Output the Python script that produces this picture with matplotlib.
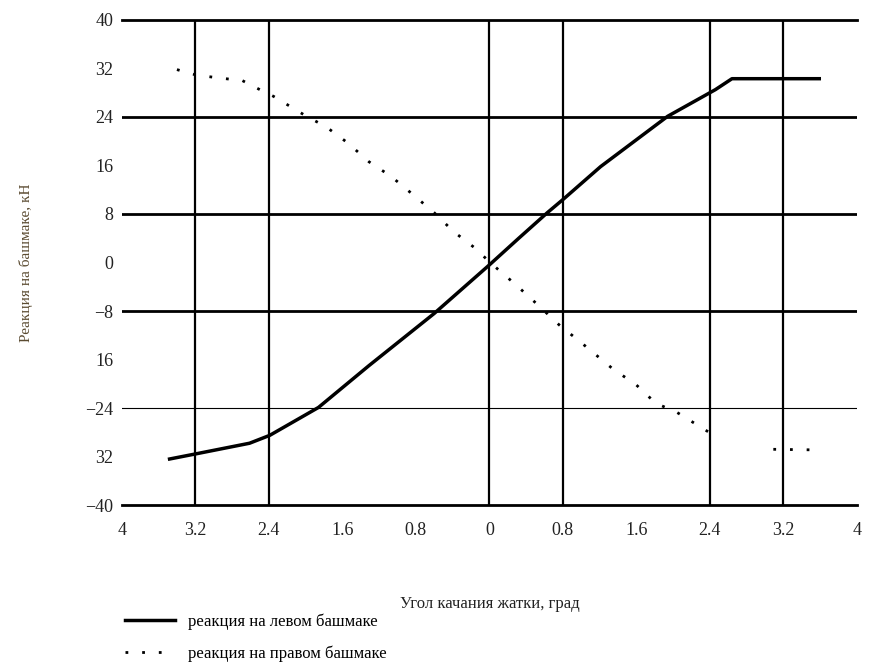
import numpy as np
import matplotlib
matplotlib.use('Agg')
import matplotlib.pyplot as plt

plt.rcParams['font.family'] = ['Liberation Serif', 'DejaVu Serif']

# реакция на левом башмаке (solid)
left_x = [-3.48, -3.21, -2.61, -2.39, -1.86, -1.31, -0.60, 0.0, 0.32, 0.63, 0.81, 1.21, 1.94, 2.46, 2.64, 3.59]
left_y = [-32.4, -31.6, -29.8, -28.5, -23.9, -17.0, -8.4, -0.4, 4.0, 8.2, 10.5, 15.8, 24.1, 28.5, 30.3, 30.3]

# реакция на правом башмаке (dotted), gap near x = 2.7
right_x = [-3.40, -3.19, -2.93, -2.69, -2.46, -2.35, -1.99, -1.78, -1.54, -1.31, -1.07, -0.84,
           -0.60, -0.39, -0.15, 0.0, 0.29, 0.55, 0.76, 0.99, 1.34, 1.60, 1.81, 2.04, 2.38,
           2.70, 3.09, 3.56]
right_y = [31.8, 30.9, 30.4, 30.0, 28.2, 27.4, 24.1, 22.4, 19.7, 16.6, 14.2, 11.3,
           8.2, 5.1, 2.3, 0.1, -3.7, -7.3, -10.3, -13.1, -17.5, -20.2, -23.2, -24.7, -27.9,
           np.nan, -30.8, -30.9]

xticks = [-4, -3.2, -2.4, -1.6, -0.8, 0, 0.8, 1.6, 2.4, 3.2, 4]
xtick_labels = ['4', '3.2', '2.4', '1.6', '0.8', '0', '0.8', '1.6', '2.4', '3.2', '4']
yticks = [40, 32, 24, 16, 8, 0, -8, -16, -24, -32, -40]
ytick_labels = ['40', '32', '24', '16', '8', '0', '\u22128', '16', '\u221224', '32', '\u221240']

vgrid = [-3.2, -2.4, 0, 0.8, 2.4, 3.2]
hgrid = [24, 8, -8]

fig = plt.figure(figsize=(8.7, 6.62), dpi=100)
ax = fig.add_axes([0.140, 0.237, 0.845, 0.733])

for gx in vgrid:
    ax.axvline(gx, color='black', lw=1.6, zorder=1)
for gy in hgrid:
    ax.axhline(gy, color='black', lw=2.0, zorder=1)
ax.axhline(-24, color='black', lw=0.8, zorder=1)

l1, = ax.plot(left_x, left_y, color='black', lw=2.5, zorder=3,
              label='реакция на левом башмаке')
l2, = ax.plot(right_x, right_y, color='black', lw=2.0, linestyle=(0, (1, 5)), zorder=3,
              label='реакция на правом башмаке')

ax.set_xlim(-4, 4)
ax.set_ylim(-40, 40)
ax.set_xticks(xticks)
ax.set_xticklabels(xtick_labels)
ax.set_yticks(yticks)
ax.set_yticklabels(ytick_labels)
ax.tick_params(length=0, labelsize=13, colors='#222222')
ax.tick_params(axis='x', pad=12)
ax.tick_params(axis='y', pad=6)

for s in ['left', 'right']:
    ax.spines[s].set_visible(False)
for s in ['top', 'bottom']:
    ax.spines[s].set_linewidth(2.0)
    ax.spines[s].set_color('black')

ax.set_xlabel('Угол качания жатки, град', fontsize=12, color='#222222', labelpad=41)
ax.set_ylabel('Реакция на башмаке, кН', fontsize=11, color='#5a4a30', labelpad=38)

fig.legend(handles=[l1, l2], loc='upper left', bbox_to_anchor=(0.136, 0.084),
           frameon=False, fontsize=12, handlelength=3.0, handletextpad=0.8,
           labelspacing=0.95, borderaxespad=0)

fig.savefig('out.png', dpi=100)
